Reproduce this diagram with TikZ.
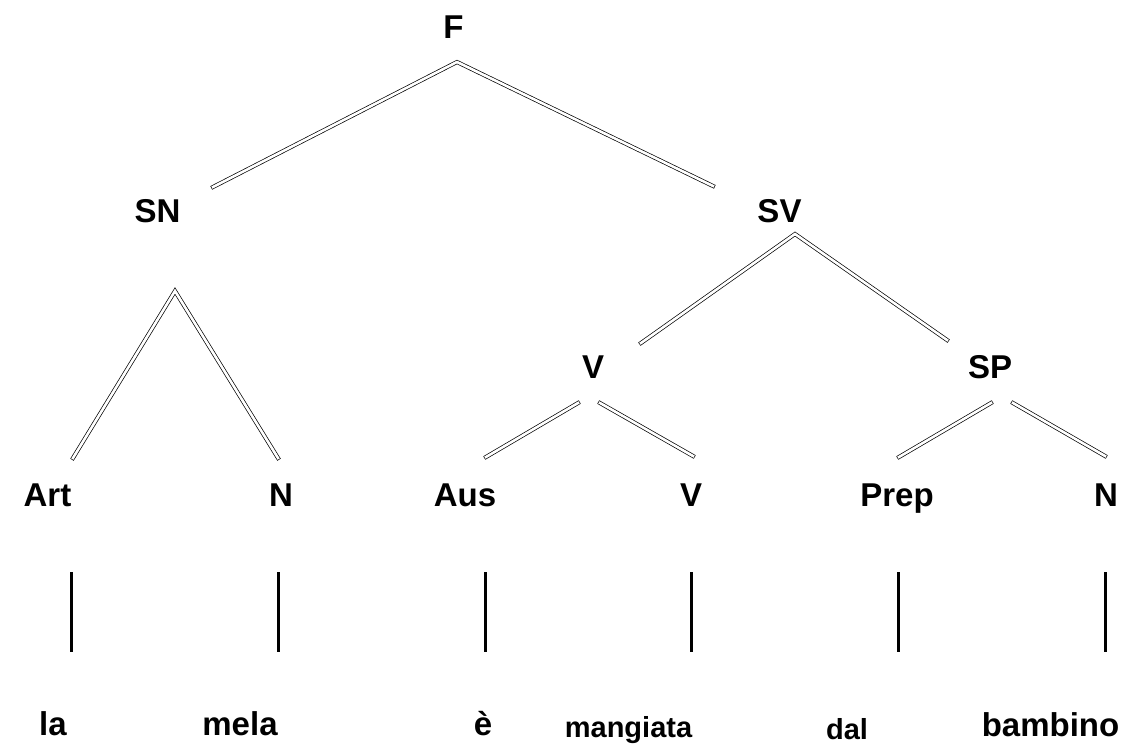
\documentclass[tikz,border=0pt]{standalone}
\usepackage{fontspec}
\setmainfont{Liberation Sans}
\tikzset{branch/.style={double, double distance=2.6pt, line width=0.7pt, line cap=rect},
  leaf/.style={line width=3pt},
  cat/.style={font=\fontsize{33}{36}\selectfont\bfseries, inner sep=0pt, anchor=base},
  word/.style={font=\fontsize{33}{36}\selectfont\bfseries, inner sep=0pt, anchor=base},
  smallword/.style={font=\fontsize{29}{32}\selectfont\bfseries, inner sep=0pt, anchor=base}}
\begin{document}
\begin{tikzpicture}[x=1pt,y=-1pt]
\useasboundingbox (0,0) rectangle (1146,747);

% categories
\node[cat] (F) at (453.5,38) {F};
\node[cat] (SN) at (157.5,222) {SN};
\node[cat] (SV) at (779.5,222) {SV};
\node[cat] (V1) at (593,378) {V};
\node[cat] (SP) at (990,378) {SP};
\node[cat] (Art) at (47.5,506) {Art};
\node[cat] (N1) at (281,506) {N};
\node[cat] (Aus) at (465,506) {Aus};
\node[cat] (V2) at (691,506) {V};
\node[cat] (Prep) at (897,506) {Prep};
\node[cat] (N2) at (1106,506) {N};

% words
\node[word] (la) at (53,735) {la};
\node[word] (mela) at (240,735) {mela};
\node[word] (e) at (483,735) {è};
\node[smallword] (mangiata) at (628.5,737) {mangiata};
\node[smallword] (dal) at (847,739) {dal};
\node[word] (bambino) at (1050.5,736) {bambino};

% branch ends
\coordinate (F-s) at (457,62);
\coordinate (SN-n) at (213,187);
\coordinate (SV-n) at (713,186);
\coordinate (SN-s) at (175,291);
\coordinate (Art-n) at (73,458);
\coordinate (N1-n) at (278,458);
\coordinate (SV-s) at (795,234);
\coordinate (V1-n) at (641,343);
\coordinate (SP-n) at (947,340);
\coordinate (V1-sl) at (578,403);
\coordinate (V1-sr) at (600,403);
\coordinate (Aus-n) at (486,457);
\coordinate (V2-n) at (693,456);
\coordinate (SP-sl) at (991,403);
\coordinate (SP-sr) at (1013,403);
\coordinate (Prep-n) at (899,457);
\coordinate (N2-n) at (1105,456);

\draw[branch] (SN-n) -- (F-s) -- (SV-n);
\draw[branch] (Art-n) -- (SN-s) -- (N1-n);
\draw[branch] (V1-n) -- (SV-s) -- (SP-n);
\draw[branch] (V1-sl) -- (Aus-n);
\draw[branch] (V1-sr) -- (V2-n);
\draw[branch] (SP-sl) -- (Prep-n);
\draw[branch] (SP-sr) -- (N2-n);

% leaves
\foreach \c/\x in {Art/71,N1/278,Aus/485,V2/691,Prep/898,N2/1105}
{
\draw[leaf] (\x,572) -- (\x,652);
}
\end{tikzpicture}
\end{document}
